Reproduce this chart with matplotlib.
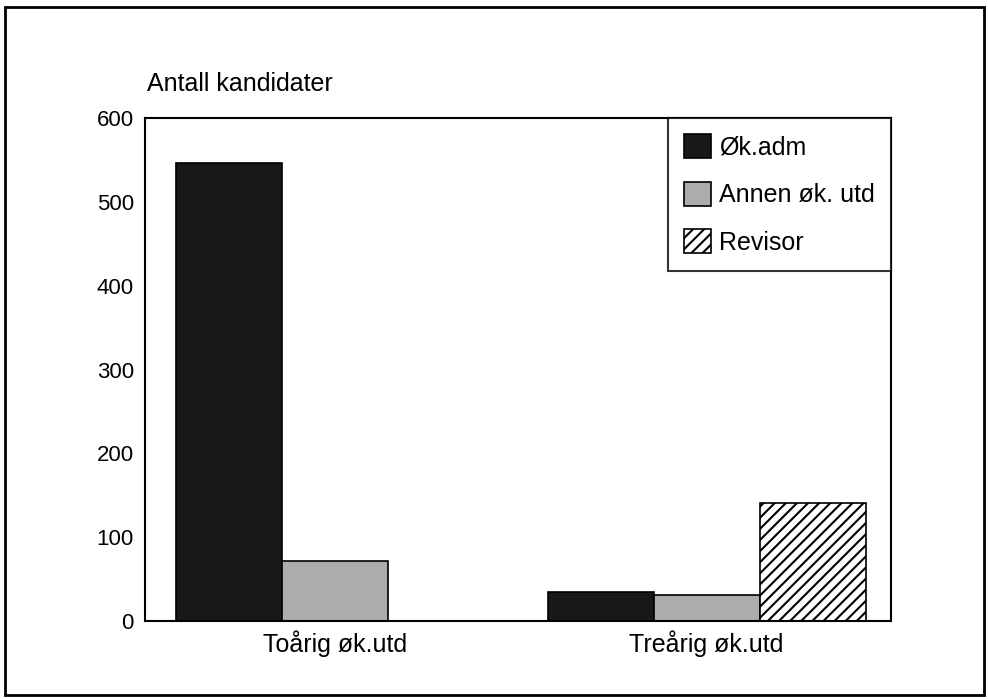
import numpy as np
import matplotlib.pyplot as plt
from matplotlib.patches import Rectangle

plt.rcParams['font.family'] = ['Liberation Sans', 'DejaVu Sans']
plt.rcParams['hatch.linewidth'] = 1.5

grupper = ['Toårig øk.utd', 'Treårig øk.utd']
serier = ['Øk.adm', 'Annen øk. utd', 'Revisor']
okadm = [547, 35]
annen = [72, 31]
revisor = [0, 141]

fig = plt.figure(figsize=(9.88, 6.99), dpi=100)
ax = fig.add_axes([0.1468, 0.1116, 0.7550, 0.7194])

x = np.array([0, 3.51])
w = 1.0
ax.bar(x - w, okadm, w, color='#181818', edgecolor='black', linewidth=1.2, label=serier[0])
ax.bar(x, annen, w, color='#acacac', edgecolor='black', linewidth=1.2, label=serier[1])
ax.bar(x + w, revisor, w, color='white', edgecolor='black', hatch='///', linewidth=1.2, label=serier[2])

ax.set_xlim(-1.79, 5.25)
ax.set_ylim(0, 600)
ax.set_yticks(range(0, 601, 100))
ax.set_xticks(x)
ax.set_xticklabels(grupper)
ax.tick_params(axis='x', length=0, labelsize=18, pad=7)
ax.tick_params(axis='y', length=0, labelsize=16, pad=8)
for s in ax.spines.values():
    s.set_linewidth(1.5)

fig.text(147 / 988, 1 - 84 / 699, 'Antall kandidater', fontsize=18, va='center', ha='left')

leg = ax.legend(loc='upper right', borderaxespad=0, fontsize=18, frameon=True,
                fancybox=False, edgecolor='black', handlelength=1.1, handleheight=1.1,
                handletextpad=0.3, labelspacing=0.88, borderpad=0.65)
leg.get_frame().set_linewidth(1.5)

fig.patches.append(Rectangle((5 / 988, 4 / 699), 979 / 988, 688 / 699, transform=fig.transFigure,
                             fill=False, edgecolor='black', linewidth=2))

fig.savefig('out.png', dpi=100)
